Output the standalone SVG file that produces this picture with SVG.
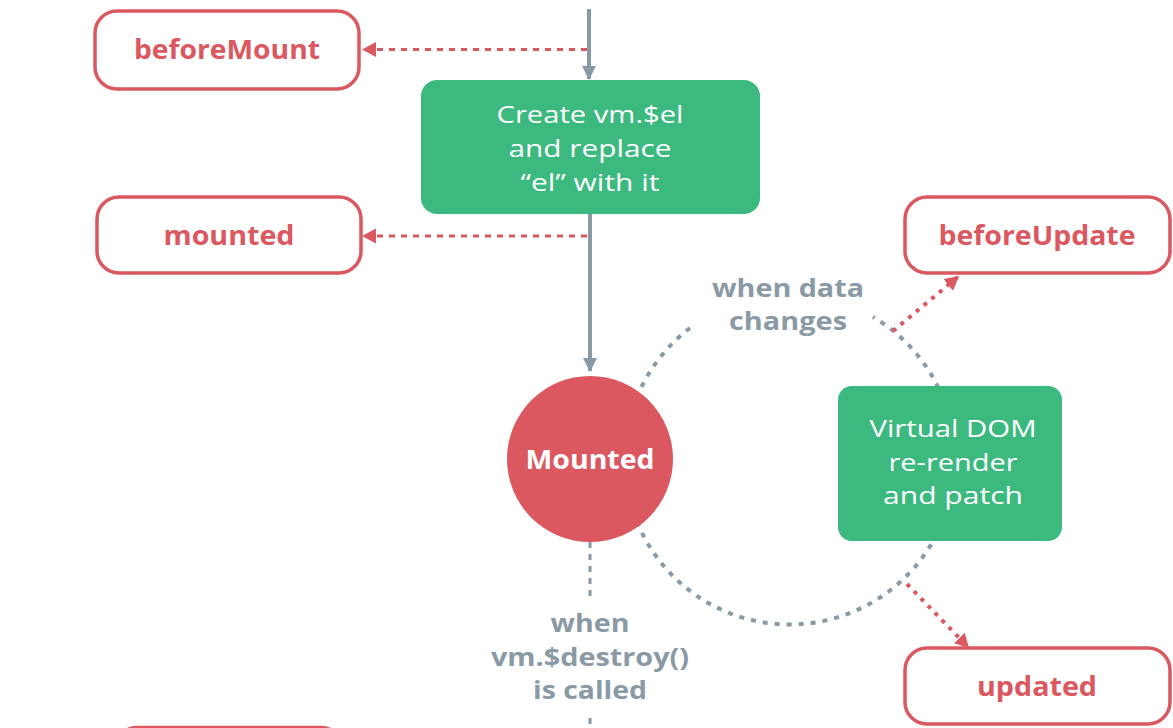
<svg xmlns="http://www.w3.org/2000/svg" width="1173" height="728" viewBox="0 0 1173 728">
<defs>
<style>
.hook rect{fill:#fff;stroke:#db5860;stroke-width:3.5}
.hook text{fill:#db5860;font-family:"Open Sans","Liberation Sans",sans-serif;font-weight:700;font-size:26px;text-anchor:middle}
.proc rect{fill:#3cb97f}
.proc text{fill:#fff;font-family:"Open Sans","Liberation Sans",sans-serif;font-weight:400;font-size:24px;text-anchor:middle}
.lbl{fill:#8a9aa5;font-family:"Open Sans","Liberation Sans",sans-serif;font-weight:700;font-size:25px;text-anchor:middle}
.flow{stroke:#8a9aa5;stroke-width:4;fill:none}
.hookline{stroke:#db5860;stroke-width:3;fill:none;stroke-dasharray:6 6}
.dotline{stroke:#db5860;stroke-width:4;fill:none;stroke-dasharray:4 6}
.cycle{stroke:#8a9aa5;stroke-width:4;fill:none;stroke-dasharray:5 7}
.destroy{stroke:#8a9aa5;stroke-width:3;fill:none;stroke-dasharray:6 6}
</style>
<marker id="grayhead" markerWidth="16" markerHeight="14" refX="13" refY="7" orient="auto" markerUnits="userSpaceOnUse">
<path d="M0,0 L14,7 L0,14 Z" fill="#8a9aa5"/>
</marker>
<marker id="redhead" markerWidth="16" markerHeight="16" refX="14" refY="7.5" orient="auto" markerUnits="userSpaceOnUse">
<path d="M0,0 L14,7.5 L0,15 Z" fill="#db5860"/>
</marker>
</defs>
<rect width="1173" height="728" fill="#fff"/>
<g id="connectors">
<path class="flow" d="M589,9 V79" marker-end="url(#grayhead)"/>
<path class="flow" d="M590,214 V371" marker-end="url(#grayhead)"/>
<path class="hookline" d="M587,49.5 H362" marker-end="url(#redhead)"/>
<path class="hookline" d="M587,236 H362" marker-end="url(#redhead)"/>
<path class="cycle" d="M690,328 A165,165 0 1 0 873,317"/>
<path class="dotline" d="M893,331 L959,276" marker-end="url(#redhead)"/>
<path class="dotline" d="M907,584 L969,648" marker-end="url(#redhead)"/>
<path class="destroy" d="M590,542 V600"/>
<path class="destroy" d="M590,718 V728"/>
</g>
<g id="beforeMount" class="hook"><rect x="95" y="11" width="264" height="78" rx="22"/><text x="227" y="59" textLength="186" lengthAdjust="spacingAndGlyphs">beforeMount</text></g>
<g id="mounted" class="hook"><rect x="97" y="197" width="264" height="76" rx="22"/><text x="229" y="245" textLength="131" lengthAdjust="spacingAndGlyphs">mounted</text></g>
<g id="beforeUpdate" class="hook"><rect x="905" y="197" width="265" height="76" rx="22"/><text x="1037" y="245" textLength="197" lengthAdjust="spacingAndGlyphs">beforeUpdate</text></g>
<g id="updated" class="hook"><rect x="905" y="648" width="265" height="76" rx="22"/><text x="1037" y="696" textLength="120" lengthAdjust="spacingAndGlyphs">updated</text></g>
<g id="beforeDestroy" class="hook"><rect x="115" y="727.5" width="228" height="76" rx="22"/></g>
<g id="createEl" class="proc"><rect x="421" y="80" width="339" height="134" rx="16"/>
<text x="590" y="123" textLength="187" lengthAdjust="spacingAndGlyphs">Create vm.$el</text><text x="590" y="157" textLength="163" lengthAdjust="spacingAndGlyphs">and replace</text><text x="590" y="191" textLength="139" lengthAdjust="spacingAndGlyphs">“el” with it</text></g>
<g id="vdom" class="proc"><rect x="838" y="386" width="224" height="155" rx="14"/>
<text x="953" y="437" textLength="167" lengthAdjust="spacingAndGlyphs">Virtual DOM</text><text x="953" y="471" textLength="129" lengthAdjust="spacingAndGlyphs">re-render</text><text x="953" y="504" textLength="140" lengthAdjust="spacingAndGlyphs">and patch</text></g>
<g id="Mounted"><circle cx="590" cy="459" r="83" fill="#db5860"/><text x="590" y="469" fill="#fff" font-family="Open Sans, Liberation Sans, sans-serif" font-weight="700" font-size="26" text-anchor="middle" textLength="129" lengthAdjust="spacingAndGlyphs">Mounted</text></g>
<g id="labels">
<text class="lbl" x="788" y="297" textLength="152" lengthAdjust="spacingAndGlyphs">when data</text><text class="lbl" x="788" y="330" textLength="118" lengthAdjust="spacingAndGlyphs">changes</text>
<text class="lbl" x="590" y="632" textLength="79" lengthAdjust="spacingAndGlyphs">when</text><text class="lbl" x="590" y="666" textLength="198" lengthAdjust="spacingAndGlyphs">vm.$destroy()</text><text class="lbl" x="590" y="699" textLength="114" lengthAdjust="spacingAndGlyphs">is called</text>
</g>
</svg>
